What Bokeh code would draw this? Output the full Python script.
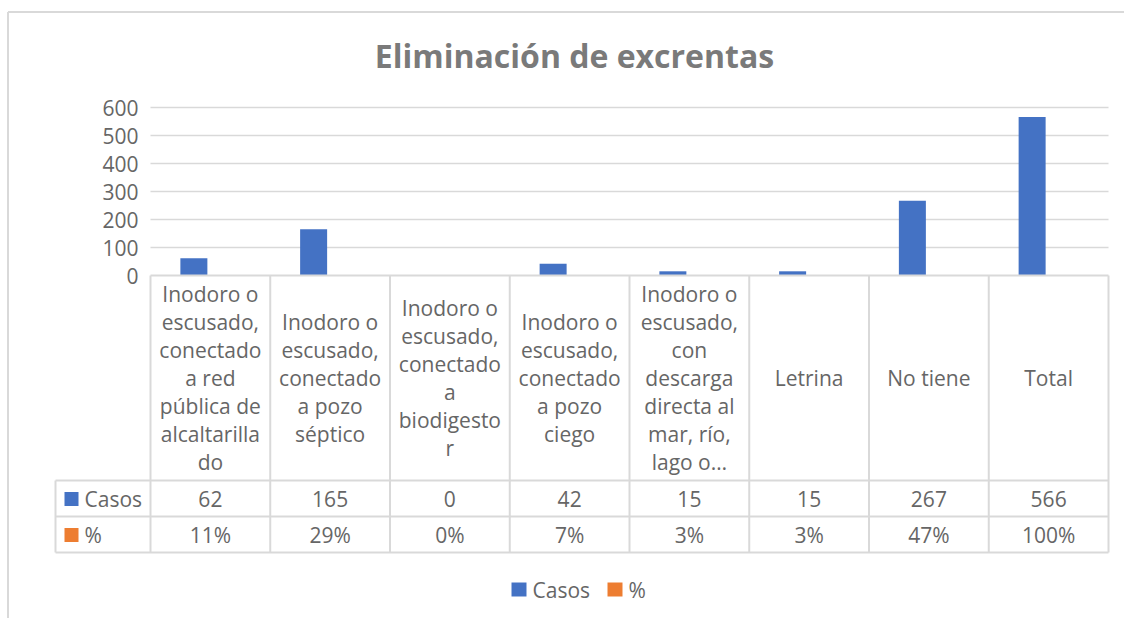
from bokeh.plotting import figure
from bokeh.models import Range1d
from bokeh.embed import file_html
from bokeh.resources import INLINE
from bokeh.core.properties import value

# ---------------- data ----------------
title_text = "Eliminación de excrentas"
categories = [
    "Inodoro o escusado, conectado a red pública de alcaltarillado",
    "Inodoro o escusado, conectado a pozo séptico",
    "Inodoro o escusado, conectado a biodigestor",
    "Inodoro o escusado, conectado a pozo ciego",
    "Inodoro o escusado, con descarga directa al mar, río, lago o…",
    "Letrina",
    "No tiene",
    "Total",
]
category_lines = [
    ["Inodoro o", "escusado,", "conectado", "a red", "pública de", "alcaltarilla", "do"],
    ["Inodoro o", "escusado,", "conectado", "a pozo", "séptico"],
    ["Inodoro o", "escusado,", "conectado", "a", "biodigesto", "r"],
    ["Inodoro o", "escusado,", "conectado", "a pozo", "ciego"],
    ["Inodoro o", "escusado,", "con", "descarga", "directa al", "mar, río,", "lago o…"],
    ["Letrina"],
    ["No tiene"],
    ["Total"],
]
casos = [62, 165, 0, 42, 15, 15, 267, 566]
pct = [11, 29, 0, 7, 3, 3, 47, 100]
pct_labels = ["11%", "29%", "0%", "7%", "3%", "3%", "47%", "100%"]
y_ticks = [0, 100, 200, 300, 400, 500, 600]
series_names = ["Casos", "%"]
series_colors = ["#4472C4", "#ED7D31"]

# ---------------- layout (pixel geometry of the reference) ----------------
W, H = 1124, 618
OFF = 0
PLOT_L, PLOT_R = 150, 1108
Y0_PX, Y600_PX = 275, 107
CAT_W = (PLOT_R - PLOT_L) / len(categories)
PX_PER_UNIT = (Y0_PX - Y600_PX) / 600.0


def xd(px):
    return (px - PLOT_L) / CAT_W - 0.5


def yd(px):
    return (Y0_PX - px) / PX_PER_UNIT


FONT = "Open Sans"
TXT = "#666666"
LINE = "#d9d9d9"

p = figure(width=W, height=H, output_backend="svg", toolbar_location=None,
           x_range=Range1d(xd(OFF), xd(OFF + W)),
           y_range=Range1d(yd(OFF + H), yd(OFF)),
           x_axis_type=None, y_axis_type=None, min_border=0,
           background_fill_color="white", border_fill_color="white")
p.outline_line_color = None
p.grid.visible = False

n = len(categories)
idx = list(range(n))

# outer chart border (top and left)
p.segment(x0=[xd(7.5), xd(7.5)], y0=[yd(11.5), yd(11.5)],
          x1=[xd(OFF + W), xd(7.5)], y1=[yd(11.5), yd(OFF + H)],
          line_color=LINE, line_width=2)

# title
p.text(x=[xd(574)], y=[yd(55)], text=[title_text], text_font=value(FONT),
       text_font_style="bold", text_font_size="32px", text_color="#7a7a7a",
       text_align="center", text_baseline="middle")

# gridlines
gt = [t for t in y_ticks if t > 0]
p.segment(x0=[-0.5] * len(gt), y0=gt, x1=[n - 0.5] * len(gt), y1=gt,
          line_color=LINE, line_width=1.5)

# y tick labels
p.text(x=[xd(138)] * len(y_ticks), y=y_ticks, text=[str(t) for t in y_ticks],
       text_font=value(FONT), text_font_size="21px", text_color=TXT,
       text_align="right", text_baseline="middle")

# bars
bw = 27 / CAT_W
off = 16.5 / CAT_W
p.vbar(x=[i - off for i in idx], top=casos, width=bw, bottom=0,
       fill_color=series_colors[0], line_color=None)
p.vbar(x=[i - off + bw for i in idx], top=[v / 100.0 for v in pct], width=bw, bottom=0,
       fill_color=series_colors[1], line_color=None)

# data table lines
row_tops = [480, 516, 552]
p.segment(x0=[-0.5], y0=[0], x1=[n - 0.5], y1=[0], line_color=LINE, line_width=2)
p.segment(x0=[xd(55)] * 3, y0=[yd(r) for r in row_tops],
          x1=[n - 0.5] * 3, y1=[yd(r) for r in row_tops],
          line_color=LINE, line_width=2)
p.segment(x0=[k - 0.5 for k in range(n + 1)], y0=[0] * (n + 1),
          x1=[k - 0.5 for k in range(n + 1)], y1=[yd(552)] * (n + 1),
          line_color=LINE, line_width=2)
p.segment(x0=[xd(55)], y0=[yd(480)], x1=[xd(55)], y1=[yd(552)],
          line_color=LINE, line_width=2)

# category header text
hx, hy, ht = [], [], []
for i, lines in enumerate(category_lines):
    m = len(lines)
    for j, s in enumerate(lines):
        hx.append(i)
        hy.append(yd(377.5 + (j - (m - 1) / 2.0) * 28))
        ht.append(s)
p.text(x=hx, y=hy, text=ht, text_font=value(FONT), text_font_size="21px",
       text_color=TXT, text_align="center", text_baseline="middle")

# row values
p.text(x=idx, y=[yd(498)] * n, text=[str(v) for v in casos], text_font=value(FONT),
       text_font_size="21px", text_color=TXT, text_align="center", text_baseline="middle")
p.text(x=idx, y=[yd(534)] * n, text=pct_labels, text_font=value(FONT),
       text_font_size="21px", text_color=TXT, text_align="center", text_baseline="middle")

# row labels with keys
row_centers = [498.5, 534.5]
p.quad(left=[xd(64)] * 2, right=[xd(78)] * 2,
       top=[yd(c - 7) for c in row_centers], bottom=[yd(c + 7) for c in row_centers],
       fill_color=series_colors, line_color=None)
p.text(x=[xd(84)] * 2, y=[yd(c) for c in row_centers], text=series_names,
       text_font=value(FONT), text_font_size="21px", text_color=TXT,
       text_align="left", text_baseline="middle")

# bottom legend
leg_keys = [511, 607]
p.quad(left=[xd(k) for k in leg_keys], right=[xd(k + 15) for k in leg_keys],
       top=[yd(582)] * 2, bottom=[yd(596)] * 2,
       fill_color=series_colors, line_color=None)
p.text(x=[xd(k + 21) for k in leg_keys], y=[yd(589)] * 2, text=series_names,
       text_font=value(FONT), text_font_size="21px", text_color=TXT,
       text_align="left", text_baseline="middle")

open("out.html", "w").write(file_html(p, INLINE))
